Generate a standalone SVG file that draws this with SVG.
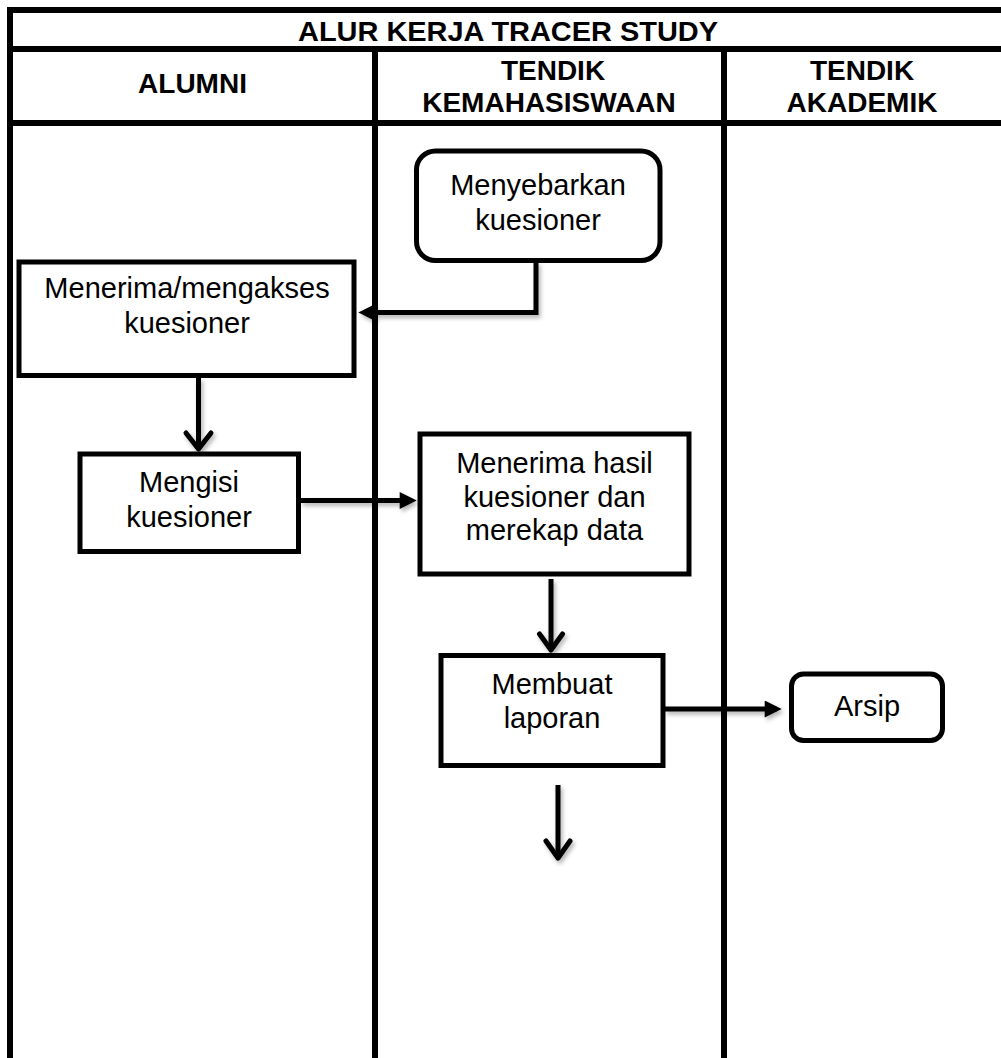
<svg xmlns="http://www.w3.org/2000/svg" width="1001" height="1058" viewBox="0 0 1001 1058">
<style>
.lane{stroke:#000;stroke-width:6;fill:none}
.hdr{font-family:"Liberation Sans",Arial,sans-serif;font-weight:bold;font-size:28px;fill:#000;text-anchor:middle}
.box{fill:#fff;stroke:#000;stroke-width:5}
.lbl{font-family:"Liberation Sans",Arial,sans-serif;font-size:29px;fill:#000;text-anchor:middle}
.conn{stroke:#000;stroke-width:5;fill:none}
</style>
<defs>
<filter id="sh" filterUnits="userSpaceOnUse" x="0" y="0" width="1001" height="1058">
<feDropShadow dx="2" dy="3" stdDeviation="2" flood-color="#000" flood-opacity="0.3"/>
</filter>
<marker id="tri" viewBox="0 0 10 10" refX="7" refY="5" markerWidth="3.6" markerHeight="3.4" orient="auto" markerUnits="strokeWidth">
<path d="M0,0 L10,5 L0,10 z" fill="#000"/>
</marker>
</defs>
<rect width="1001" height="1058" fill="#fff"/>
<g id="table">
<line class="lane" x1="7" y1="10" x2="1001" y2="10"/>
<line class="lane" x1="7" y1="49" x2="1001" y2="49"/>
<line class="lane" x1="7" y1="123" x2="1001" y2="123"/>
<line class="lane" x1="10" y1="7" x2="10" y2="1058"/>
<line class="lane" x1="375" y1="49" x2="375" y2="1058"/>
<line class="lane" x1="724" y1="49" x2="724" y2="1058"/>
<text class="hdr" x="508" y="41" font-size="26" textLength="420" lengthAdjust="spacingAndGlyphs">ALUR KERJA TRACER STUDY</text>
<text class="hdr" x="192.5" y="93">ALUMNI</text>
<text class="hdr" x="553" y="80">TENDIK</text>
<text class="hdr" x="549" y="112">KEMAHASISWAAN</text>
<text class="hdr" x="862" y="80">TENDIK</text>
<text class="hdr" x="862" y="112">AKADEMIK</text>
</g>
<g id="connectors" filter="url(#sh)">
<polyline class="conn" points="536,262 536,312.5 363.4,312.5" marker-end="url(#tri)"/>
<line class="conn" x1="198.5" y1="378" x2="198.5" y2="449"/>
<polyline class="conn" points="186,433 198.5,449 211,433" stroke-linecap="round" stroke-linejoin="round"/>
<line class="conn" x1="301" y1="500.5" x2="411.6" y2="500.5" marker-end="url(#tri)"/>
<line class="conn" x1="551" y1="579" x2="551" y2="650"/>
<polyline class="conn" points="539.5,634 551,650 562.5,634" stroke-linecap="round" stroke-linejoin="round"/>
<line class="conn" x1="665" y1="709" x2="776.6" y2="709" marker-end="url(#tri)"/>
<line class="conn" x1="558" y1="785" x2="558" y2="858"/>
<polyline class="conn" points="546,841 558,858 570,841" stroke-linecap="round" stroke-linejoin="round"/>
</g>
<g id="menyebarkan">
<rect class="box" x="416.5" y="151" width="243.5" height="109.5" rx="19"/>
<text class="lbl" x="538" y="195">Menyebarkan</text>
<text class="lbl" x="538" y="230">kuesioner</text>
</g>
<g id="menerima-mengakses">
<rect class="box" x="19" y="262" width="335" height="113.5"/>
<text class="lbl" x="187" y="298">Menerima/mengakses</text>
<text class="lbl" x="187" y="333">kuesioner</text>
</g>
<g id="mengisi">
<rect class="box" x="80" y="454" width="218.5" height="97.5"/>
<text class="lbl" x="189" y="492">Mengisi</text>
<text class="lbl" x="189" y="527">kuesioner</text>
</g>
<g id="menerima-hasil">
<rect class="box" x="420" y="434" width="269" height="140"/>
<text class="lbl" x="554.5" y="473">Menerima hasil</text>
<text class="lbl" x="554.5" y="507">kuesioner dan</text>
<text class="lbl" x="554.5" y="540">merekap data</text>
</g>
<g id="membuat-laporan">
<rect class="box" x="441" y="655.5" width="222" height="110"/>
<text class="lbl" x="552" y="694">Membuat</text>
<text class="lbl" x="552" y="728">laporan</text>
</g>
<g id="arsip">
<rect class="box" x="791.5" y="674" width="151" height="66.5" rx="12"/>
<text class="lbl" x="867" y="716">Arsip</text>
</g>
</svg>
